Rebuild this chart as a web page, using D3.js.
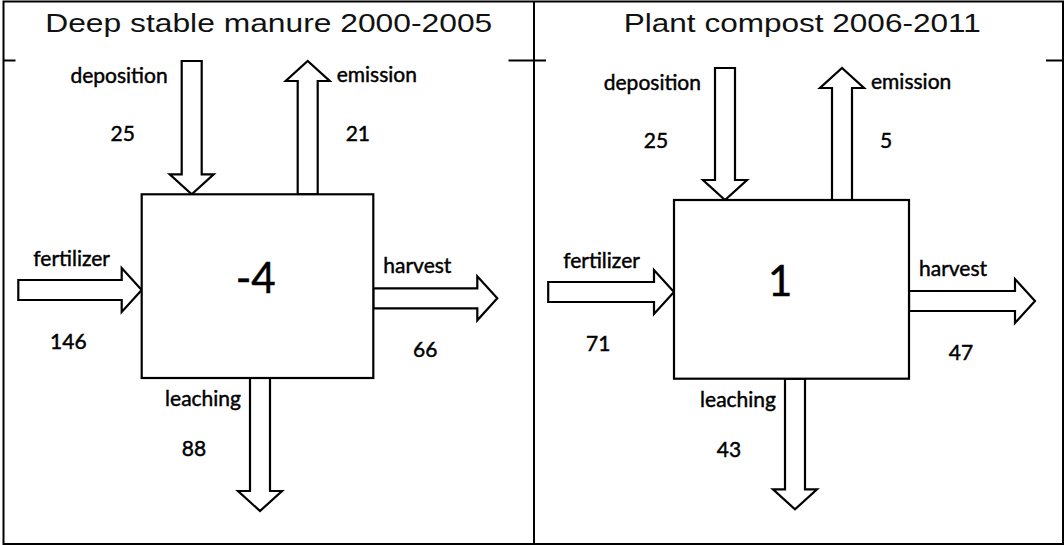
<!DOCTYPE html>
<html>
<head>
<meta charset="utf-8">
<script src="https://cdn.jsdelivr.net/npm/d3@7"></script>
<style>
  html, body { margin: 0; padding: 0; background: #fff; }
  svg { display: block; }
  .lbl { font-family: Lato, "Open Sans", sans-serif; font-size: 21px; fill: #000; stroke: #000; stroke-width: 0.45px; }
  .big { font-family: Lato, "Open Sans", sans-serif; font-size: 42px; fill: #000; stroke: #000; stroke-width: 0.5px; }
  .title { font-family: "Liberation Sans", Arial, sans-serif; font-size: 25px; fill: #111; }
</style>
</head>
<body>
<div id="chart"></div>
<script>
// data
var titles = ["Deep stable manure 2000-2005", "Plant compost 2006-2011"];
var titleWidth = [447, 357];
var deposition = [25, 25];
var emission = [21, 5];
var fertilizer = [146, 71];
var harvest = [66, 47];
var leaching = [88, 43];
var balance = [-4, 1];

// layout per panel (panel-local coords)
var boxX = [138.2, 140], boxY = [194.3, 200], boxW = [231.6, 235], boxH = [183.7, 178.7];
var arrowTop = [61, 68];
var depX = [50, 51], emiX = [166, 168], leaX = [118.3, 121];
var ferY = [95.7, 92], harY = [104, 101];
var ferStart = [14.8, 14.2], harLen = [124, 126], leaLen = [133, 130.6];
var stubRight = [505, 512];

var W = 1064, H = 545;
var sw = 20, hw = 44, hl = 20; // shaft width, head width, head length

var svg = d3.select("#chart").append("svg")
  .attr("width", W)
  .attr("height", H);

var x = d3.scaleBand().domain(titles).range([3.5, 1064.5]);

// table frame
svg.append("rect")
  .attr("x", 3.5).attr("y", 1.5)
  .attr("width", 1063 - 3.5).attr("height", 544 - 1.5)
  .attr("fill", "none").attr("stroke", "#000").attr("stroke-width", 2);
svg.append("line")
  .attr("x1", x(titles[1])).attr("x2", x(titles[1]))
  .attr("y1", 1.5).attr("y2", 544)
  .attr("stroke", "#000").attr("stroke-width", 2);

var line = d3.line();

var arrow = function (x1, y1, x2, y2) {
  var dx = x2 - x1, dy = y2 - y1;
  var L = Math.hypot(dx, dy);
  var ux = dx / L, uy = dy / L, nx = -uy, ny = ux;
  var bx = x2 - ux * hl, by = y2 - uy * hl;
  var pts = [
    [x1 + nx * sw / 2, y1 + ny * sw / 2],
    [bx + nx * sw / 2, by + ny * sw / 2],
    [bx + nx * hw / 2, by + ny * hw / 2],
    [x2, y2],
    [bx - nx * hw / 2, by - ny * hw / 2],
    [bx - nx * sw / 2, by - ny * sw / 2],
    [x1 - nx * sw / 2, y1 - ny * sw / 2]
  ];
  return line(pts) + "Z";
};

titles.forEach(function (t, i) {
  var g = svg.append("g")
    .attr("transform", "translate(" + x(t) + ",0)");
  var bw = x.bandwidth();

  // title row stubs
  g.append("line")
    .attr("x1", 0).attr("x2", 12).attr("y1", 60.5).attr("y2", 60.5)
    .attr("stroke", "#000").attr("stroke-width", 2);
  g.append("line")
    .attr("x1", stubRight[i]).attr("x2", bw).attr("y1", 60.5).attr("y2", 60.5)
    .attr("stroke", "#000").attr("stroke-width", 2);

  g.append("text")
    .attr("class", "title")
    .attr("x", bw / 2 + (i === 0 ? 0 : 3))
    .attr("y", 32)
    .attr("text-anchor", "middle")
    .attr("textLength", titleWidth[i])
    .attr("lengthAdjust", "spacingAndGlyphs")
    .text(t);

  var bx0 = boxX[i], by0 = boxY[i], bx1 = bx0 + boxW[i], by1 = by0 + boxH[i];

  var arrows = [
    arrow(bx0 + depX[i], arrowTop[i], bx0 + depX[i], by0),           // deposition
    arrow(bx0 + emiX[i], by0, bx0 + emiX[i], arrowTop[i]),           // emission
    arrow(ferStart[i], by0 + ferY[i], bx0, by0 + ferY[i]),           // fertilizer
    arrow(bx1, by0 + harY[i], bx1 + harLen[i], by0 + harY[i]),       // harvest
    arrow(bx0 + leaX[i], by1, bx0 + leaX[i], by1 + leaLen[i])        // leaching
  ];

  g.selectAll(".arrow")
    .data(arrows)
    .enter()
    .append("path")
      .attr("class", "arrow")
      .attr("d", function (d) { return d; })
      .attr("fill", "#fff")
      .attr("stroke", "#000")
      .attr("stroke-width", 2.2)
      .attr("stroke-linejoin", "miter");

  g.append("rect")
    .attr("x", bx0).attr("y", by0)
    .attr("width", boxW[i]).attr("height", boxH[i])
    .attr("fill", "#fff")
    .attr("stroke", "#000")
    .attr("stroke-width", 2.2);

  var labels = [
    {t: "deposition", x: bx0 + depX[i] - 24, y: arrowTop[i] + 22, a: "end"},
    {t: deposition[i], x: bx0 + depX[i] - 69, y: arrowTop[i] + 80, a: "middle"},
    {t: "emission", x: bx0 + emiX[i] + 29, y: arrowTop[i] + 21, a: "start"},
    {t: emission[i], x: bx0 + emiX[i] + 38, y: arrowTop[i] + 80, a: "start"},
    {t: "fertilizer", x: ferStart[i] + 15, y: by0 + ferY[i] - 24, a: "start"},
    {t: fertilizer[i], x: ferStart[i] + 50, y: by0 + ferY[i] + 58.5, a: "middle"},
    {t: "harvest", x: bx1 + 10, y: by0 + harY[i] - 25, a: "start"},
    {t: harvest[i], x: bx1 + 52, y: by0 + harY[i] + 59, a: "middle"},
    {t: "leaching", x: bx0 + leaX[i] - 19, y: by1 + 28, a: "end"},
    {t: leaching[i], x: bx0 + leaX[i] - 66, y: by1 + 78, a: "middle"}
  ];

  g.selectAll(".lbl")
    .data(labels)
    .enter()
    .append("text")
      .attr("class", "lbl")
      .attr("x", function (d) { return d.x; })
      .attr("y", function (d) { return d.y; })
      .attr("text-anchor", function (d) { return d.a; })
      .text(function (d) { return d.t; });

  g.append("text")
    .attr("class", "big")
    .attr("x", bx0 + 94)
    .attr("y", (by0 + by1) / 2 + 7)
    .text(balance[i]);
});
</script>
</body>
</html>
